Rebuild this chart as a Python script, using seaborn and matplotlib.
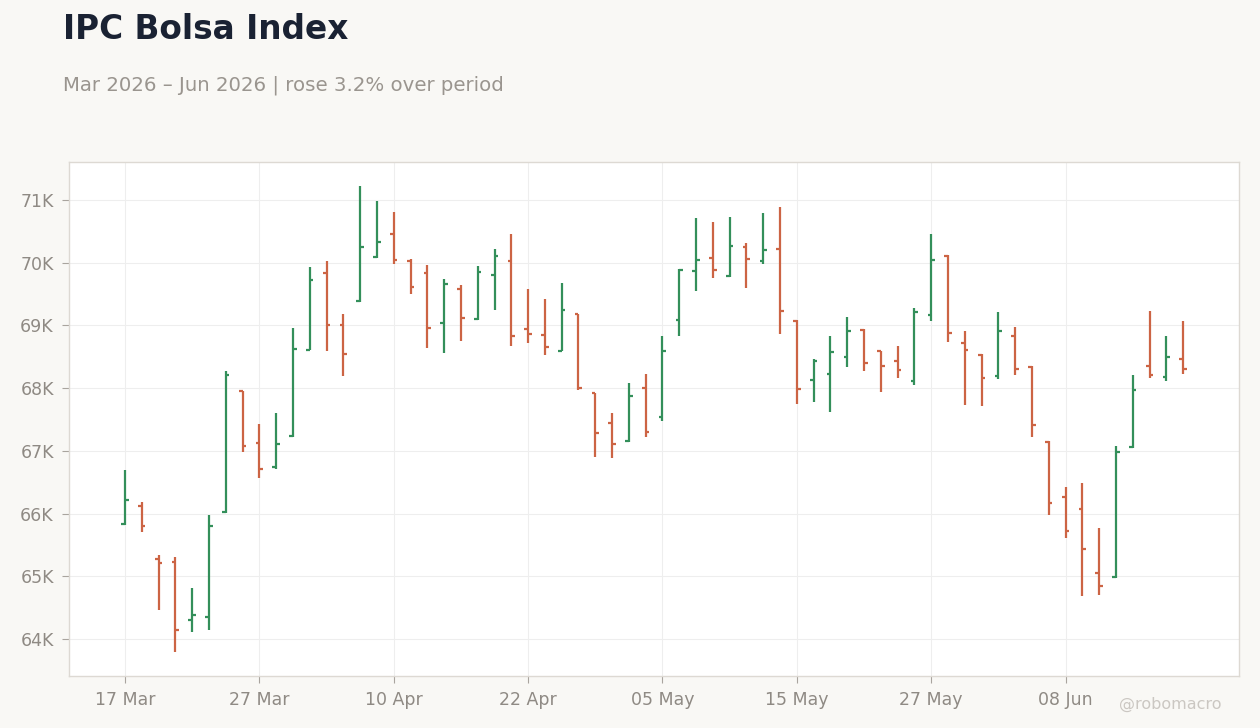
import numpy as np
import pandas as pd
import matplotlib
matplotlib.use("Agg")
import matplotlib.pyplot as plt
import seaborn as sns

# trading days of the Mexican exchange (holidays dropped)
holidays = ["2026-04-02", "2026-04-03", "2026-05-01"]
dates = pd.bdate_range("2026-03-17", "2026-06-17", freq="C", holidays=holidays)

opens = [65840, 66115, 65275, 65227, 64297, 64344, 66019, 67954, 67119, 66737,
         67231, 68613, 69830, 69001, 69384, 70086, 70452, 70022, 69830, 69033,
         69575, 69097, 69799, 70022, 68937, 68842, 68597, 69177, 67917, 67438,
         67151, 67996, 67534, 69081, 69862, 70070, 69783, 70245, 70022, 70213,
         69075, 68124, 68220, 68491, 68930, 68587, 68427, 68108, 69161, 70110,
         68714, 68523, 68188, 68826, 68340, 67140, 66258, 66067, 65046, 64982,
         67056, 68347, 68172, 68459]
highs = [66700, 66178, 65344, 65301, 64817, 65982, 68278, 67959, 67433, 67608,
         68964, 69937, 70032, 69187, 71229, 70989, 70814, 70064, 69969, 69745,
         69650, 69953, 70224, 70463, 69586, 69426, 69682, 69187, 67927, 67608,
         68087, 68230, 68836, 69905, 70718, 70654, 70734, 70320, 70798, 70894,
         69081, 68470, 68836, 69139, 68937, 68597, 68677, 69283, 70463, 70118,
         68916, 68549, 69219, 68980, 68347, 67151, 66428, 66492, 65774, 67082,
         68214, 69235, 68836, 69076]
lows = [65820, 65700, 64456, 63786, 64105, 64137, 66008, 66976, 66561, 66715,
        67220, 68608, 68587, 68188, 69373, 70075, 69974, 69496, 68634, 68555,
        68746, 69081, 69240, 68666, 68714, 68523, 68587, 67965, 66896, 66880,
        67141, 67215, 67470, 68826, 69543, 69751, 69777, 69591, 69974, 68858,
        67741, 67773, 67614, 68331, 68268, 67933, 68156, 68044, 69065, 68730,
        67725, 67709, 68140, 68204, 67215, 65971, 65604, 64679, 64695, 64972,
        67045, 68156, 68108, 68220]
closes = [66210, 65796, 65206, 64148, 64376, 65796, 68204, 67071, 66705, 67103,
          68618, 69719, 69001, 68539, 70245, 70325, 70038, 69607, 68953, 69655,
          69113, 69846, 70102, 68826, 68858, 68650, 69240, 68007, 67279, 67103,
          67869, 67295, 68597, 69878, 70038, 69878, 70261, 70054, 70197, 69224,
          67991, 68427, 68571, 68905, 68395, 68347, 68284, 69209, 70038, 68874,
          68602, 68156, 68905, 68299, 67406, 66162, 65716, 65429, 64839, 66986,
          67965, 68214, 68491, 68310]

df = pd.DataFrame({"date": dates, "open": opens, "high": highs,
                   "low": lows, "close": closes})
df["pos"] = np.arange(len(df))
df["up"] = df["close"] >= df["open"]

up_col = "#338F5A"
down_col = "#CC6444"
bg = "#F9F8F5"
txt_gray = "#8F8A84"

sns.set_theme(style="whitegrid")
plt.rcParams["font.family"] = ["DejaVu Sans"]

fig = plt.figure(figsize=(12.6, 7.28), dpi=100, facecolor=bg)
ax = fig.add_axes([0.0548, 0.0714, 0.9286, 0.7061])
ax.set_facecolor("white")

cols = np.where(df["up"], up_col, down_col)
ax.vlines(df["pos"], df["low"], df["high"], colors=cols, linewidth=1.6)
ax.hlines(df["open"], df["pos"] - 0.22, df["pos"], colors=cols, linewidth=1.6)
ax.hlines(df["close"], df["pos"], df["pos"] + 0.22, colors=cols, linewidth=1.6)

ax.set_xlim(-3.33, len(df) - 1 + 3.33)
ax.set_ylim(63410, 71606)

tick_pos = df["pos"][::8]
ax.set_xticks(tick_pos)
ax.set_xticklabels([d.strftime("%d %b") for d in df["date"][::8]])
ax.set_yticks(np.arange(64000, 71001, 1000))
ax.set_yticklabels([f"{v // 1000}K" for v in range(64000, 71001, 1000)])

ax.grid(True, color="#EEEEEE", linewidth=0.8)
ax.tick_params(axis="both", colors="#A9A49E", labelcolor=txt_gray,
               labelsize=12.5, length=5, width=0.8, pad=6, bottom=True, left=True)
for s in ax.spines.values():
    s.set_color("#DDD9D3")
    s.set_linewidth(1)

fig.text(0.05, 0.960, "IPC Bolsa Index", fontsize=23.6, fontweight="bold",
         color="#1A2233", va="center")
fig.text(0.05, 0.883, "Mar 2026 \u2013 Jun 2026 | rose 3.2% over period",
         fontsize=14.25, color="#9A958F", va="center")
fig.text(0.929, 0.032, "@robomacro", fontsize=11.5, color="#CBC7C2",
         ha="center", va="center")

fig.savefig("out.png", dpi=100, facecolor=bg)
